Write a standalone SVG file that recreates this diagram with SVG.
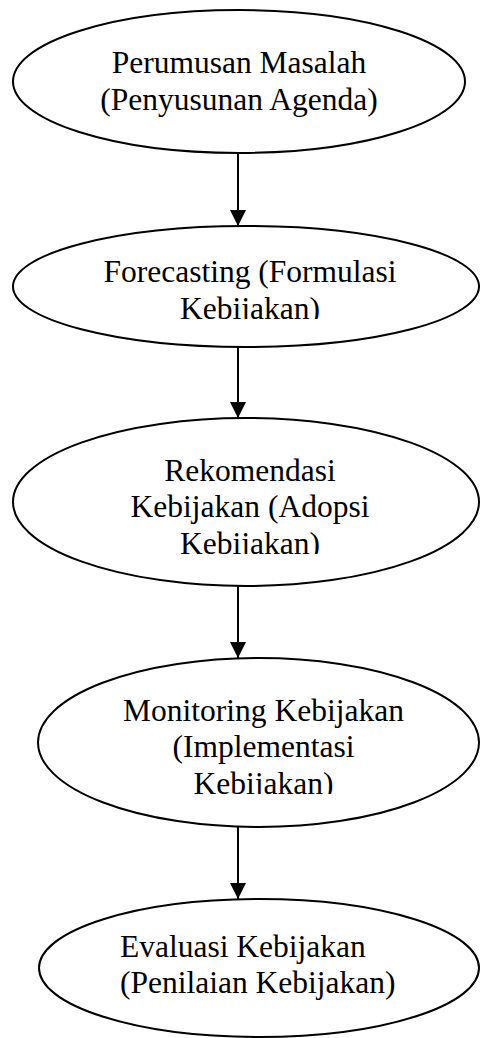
<svg xmlns="http://www.w3.org/2000/svg" width="480" height="1038" viewBox="0 0 480 1038">
<style>
.shape{fill:#fff;stroke:#000;stroke-width:2}
.lbl{font-family:"Liberation Serif","Times New Roman",serif;font-size:31.5px;fill:#000;text-anchor:middle}
.conn{stroke:#000;stroke-width:2;fill:none;marker-end:url(#arr)}
</style>
<defs>
<marker id="arr" markerUnits="userSpaceOnUse" markerWidth="16" markerHeight="16" refX="16" refY="8" orient="auto">
<path d="M0,0 L16,8 L0,16 z" fill="#000"/>
</marker>
<clipPath id="c2"><rect x="0" y="200" width="480" height="119"/></clipPath>
<clipPath id="c3"><rect x="0" y="420" width="480" height="134"/></clipPath>
<clipPath id="c4"><rect x="0" y="660" width="480" height="134"/></clipPath>
</defs>
<g id="n1">
<ellipse class="shape" cx="239" cy="81.5" rx="226" ry="71.5"/>
<text class="lbl" x="239" y="73">Perumusan Masalah</text>
<text class="lbl" x="239" y="110">(Penyusunan Agenda)</text>
</g>
<g id="n2">
<ellipse class="shape" cx="246" cy="286.5" rx="233" ry="60.5"/>
<g clip-path="url(#c2)">
<text class="lbl" x="250" y="282">Forecasting (Formulasi</text>
<text class="lbl" x="250" y="318.5">Kebijakan)</text>
</g>
</g>
<g id="n3">
<ellipse class="shape" cx="246" cy="502" rx="233" ry="84"/>
<g clip-path="url(#c3)">
<text class="lbl" x="250" y="480.5">Rekomendasi</text>
<text class="lbl" x="250" y="517">Kebijakan (Adopsi</text>
<text class="lbl" x="250" y="553.5">Kebijakan)</text>
</g>
</g>
<g id="n4">
<ellipse class="shape" cx="258.5" cy="742.5" rx="220.5" ry="84.5"/>
<g clip-path="url(#c4)">
<text class="lbl" x="263.5" y="720.5">Monitoring Kebijakan</text>
<text class="lbl" x="263.5" y="757">(Implementasi</text>
<text class="lbl" x="263.5" y="793.5">Kebijakan)</text>
</g>
</g>
<g id="n5">
<ellipse class="shape" cx="259" cy="968" rx="220" ry="69"/>
<text class="lbl" x="120" y="957" style="text-anchor:start">Evaluasi Kebijakan</text>
<text class="lbl" x="120" y="993" style="text-anchor:start">(Penilaian Kebijakan)</text>
</g>
<g id="connectors">
<line class="conn" x1="238" y1="153" x2="238" y2="226"/>
<line class="conn" x1="238" y1="347" x2="238" y2="418"/>
<line class="conn" x1="238" y1="586" x2="238" y2="658"/>
<line class="conn" x1="238" y1="827" x2="238" y2="899"/>
</g>
</svg>
